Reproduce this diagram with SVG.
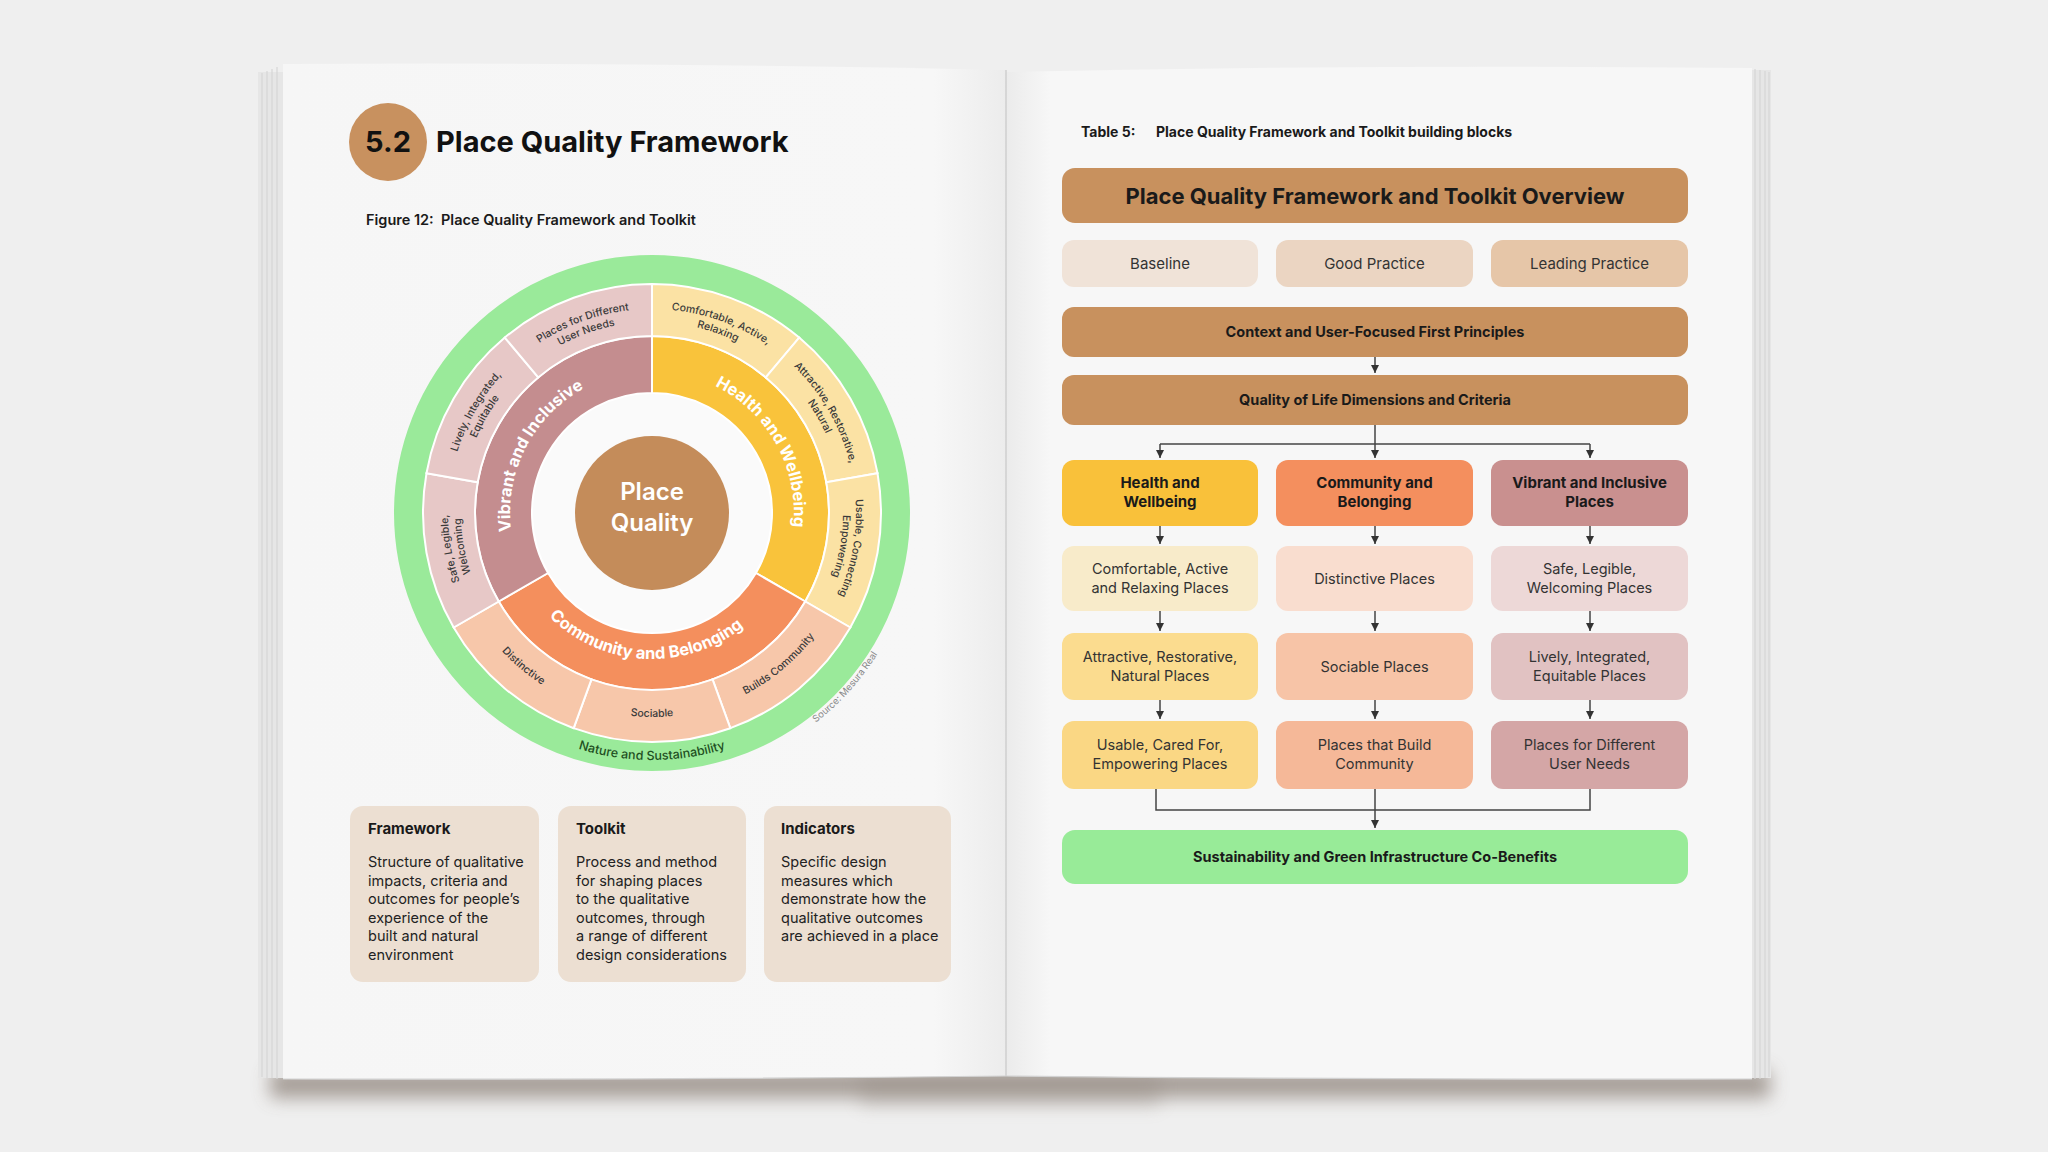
<svg xmlns="http://www.w3.org/2000/svg" xmlns:xlink="http://www.w3.org/1999/xlink" width="2048" height="1152" viewBox="0 0 2048 1152">
<defs>
<style>
text{font-family:Inter,"Liberation Sans",sans-serif;}
.h1{font-weight:700;font-size:29px;fill:#111;}
.cap{font-weight:600;font-size:14.5px;fill:#1a1a1a;}
.segt{font-weight:500;font-size:10.5px;fill:#3a3a3a;}
.midt{font-weight:700;font-size:16.5px;fill:#fff;}
.bt{font-weight:700;font-size:15px;fill:#1a1a1a;}
.bb{font-weight:400;font-size:14.5px;fill:#222;}
.th{font-weight:700;font-size:22px;fill:#1a1a1a;text-anchor:middle;}
.to{font-weight:400;font-size:15px;fill:#333;text-anchor:middle;}
.tb{font-weight:700;font-size:14.5px;fill:#1a1a1a;text-anchor:middle;}
.td{font-weight:700;font-size:15px;fill:#1a1a1a;text-anchor:middle;}
.ti{font-weight:400;font-size:14.5px;fill:#333;text-anchor:middle;}
.con{fill:none;stroke:#444;stroke-width:1.5;}
.arr{marker-end:url(#ah);}
.seg{stroke:#fff;stroke-width:2;}
</style>
<marker id="ah" markerUnits="userSpaceOnUse" markerWidth="8" markerHeight="8" viewBox="0 0 8 8" refX="8" refY="4" orient="auto">
<path d="M0,0 L8,4 L0,8 Z" fill="#333"/>
</marker>
<filter id="blur8" x="-10%" y="-200%" width="120%" height="500%"><feGaussianBlur stdDeviation="9"/></filter>
<linearGradient id="lp" x1="0" y1="0" x2="1" y2="0">
<stop offset="0" stop-color="#f6f6f6"/><stop offset="0.9" stop-color="#f7f7f7"/><stop offset="1" stop-color="#ececec"/>
</linearGradient>
<linearGradient id="rp" x1="0" y1="0" x2="1" y2="0">
<stop offset="0" stop-color="#ebebeb"/><stop offset="0.06" stop-color="#f7f7f7"/><stop offset="1" stop-color="#f7f7f7"/>
</linearGradient>
<path id="segshape" d="M652,284 A229,229 0 0 1 799.20,337.59 L765.78,377.42 A177,177 0 0 0 652,336 Z"/>
<path id="cw142" d="M512.16,488.35 A142,142 0 0 1 791.84,488.35"/>
<path id="cw204" d="M451.10,477.59 A204,204 0 0 1 852.90,477.59"/>
<path id="cw191" d="M463.90,479.84 A191,191 0 0 1 840.10,479.84"/>
<path id="ccw146" d="M508.22,538.35 A146,146 0 0 0 795.78,538.35"/>
<path id="ccw204" d="M451.10,548.41 A204,204 0 0 0 852.90,548.41"/>
<path id="ccw247" d="M408.75,555.88 A247,247 0 0 0 895.25,555.88"/>
<path id="ccw266" d="M390.04,559.18 A266,266 0 0 0 913.96,559.18"/>
</defs>

<rect x="0" y="0" width="2048" height="1152" fill="#efefef"/>

<g id="book">
<rect x="270" y="1070" width="1500" height="28" fill="#948a82" opacity="0.8" filter="url(#blur8)"/>
<rect x="860" y="1072" width="300" height="34" fill="#948a82" opacity="0.3" filter="url(#blur8)"/>
<rect x="258" y="72" width="26" height="1006" fill="#e6e6e6"/>
<path d="M262,73 V1077 M267,71 V1078 M272,69 V1078 M277,67 V1079" stroke="#d6d6d6" stroke-width="1.2" fill="none"/>
<rect x="1750" y="70" width="21" height="1008" fill="#e6e6e6"/>
<path d="M1755,69 V1079 M1760,70 V1079 M1765,71 V1078 M1769,72 V1077" stroke="#d6d6d6" stroke-width="1.2" fill="none"/>
<path d="M283,64 Q650,62 1006,70 L1006,1076 Q650,1080 283,1079 Z" fill="url(#lp)"/>
<path d="M1006,72 Q1380,64 1752,68 L1752,1079 Q1380,1080 1006,1076 Z" fill="url(#rp)"/>
<path d="M1006,70 V1076" stroke="#cfcfcf" stroke-width="1.5"/>
<path d="M283,1079 Q650,1080 1006,1076 Q1380,1080 1752,1079" stroke="#d2d2d2" stroke-width="1.2" fill="none"/>
</g>

<g id="section-title">
<circle cx="388" cy="142" r="39" fill="#c8915f"/>
<text x="388" y="152" class="h1" text-anchor="middle">5.2</text>
<text x="436" y="152" class="h1">Place Quality Framework</text>
</g>
<text id="figure-caption" y="225" class="cap"><tspan x="366">Figure 12:</tspan><tspan x="441">Place Quality Framework and Toolkit</tspan></text>

<g id="wheel">
<circle id="nature-ring" cx="652" cy="513" r="243.5" fill="none" stroke="#9aea9a" stroke-width="29"/>
<circle cx="652" cy="513" r="120" fill="#fafafa"/>
<g id="dim-health"><path class="seg" fill="#f9c33b" d="M652,336 A177,177 0 0 1 805.29,601.5 L755.92,573 A120,120 0 0 0 652,393 Z"/></g>
<g id="dim-community"><path class="seg" fill="#f48f5d" d="M805.29,601.5 A177,177 0 0 1 498.71,601.5 L548.08,573 A120,120 0 0 0 755.92,573 Z"/></g>
<g id="dim-vibrant"><path class="seg" fill="#c48d8f" d="M498.71,601.5 A177,177 0 0 1 652,336 L652,393 A120,120 0 0 0 548.08,573 Z"/></g>
<g id="seg-comfortable"><use href="#segshape" class="seg" fill="#fbe2a4"/></g>
<g id="seg-attractive"><use href="#segshape" class="seg" fill="#fbe2a4" transform="rotate(40 652 513)"/></g>
<g id="seg-usable"><use href="#segshape" class="seg" fill="#fbe2a4" transform="rotate(80 652 513)"/></g>
<g id="seg-builds"><use href="#segshape" class="seg" fill="#f7c7aa" transform="rotate(120 652 513)"/></g>
<g id="seg-sociable"><use href="#segshape" class="seg" fill="#f7c7aa" transform="rotate(160 652 513)"/></g>
<g id="seg-distinctive"><use href="#segshape" class="seg" fill="#f7c7aa" transform="rotate(200 652 513)"/></g>
<g id="seg-safe"><use href="#segshape" class="seg" fill="#e7c8c7" transform="rotate(240 652 513)"/></g>
<g id="seg-lively"><use href="#segshape" class="seg" fill="#e7c8c7" transform="rotate(280 652 513)"/></g>
<g id="seg-places"><use href="#segshape" class="seg" fill="#e7c8c7" transform="rotate(320 652 513)"/></g>

<text class="midt" transform="rotate(61 652 513)"><textPath href="#cw142" startOffset="50%" text-anchor="middle">Health and Wellbeing</textPath></text>
<text class="midt" transform="rotate(-63 652 513)"><textPath href="#cw142" startOffset="50%" text-anchor="middle">Vibrant and Inclusive</textPath></text>
<text class="midt" transform="rotate(3 652 513)"><textPath href="#ccw146" startOffset="50%" text-anchor="middle">Community and Belonging</textPath></text>

<text class="segt" transform="rotate(20 652 513)"><textPath href="#cw204" startOffset="50%" text-anchor="middle">Comfortable, Active,</textPath></text>
<text class="segt" transform="rotate(20 652 513)"><textPath href="#cw191" startOffset="50%" text-anchor="middle">Relaxing</textPath></text>
<text class="segt" transform="rotate(60 652 513)"><textPath href="#cw204" startOffset="50%" text-anchor="middle">Attractive, Restorative,</textPath></text>
<text class="segt" transform="rotate(60 652 513)"><textPath href="#cw191" startOffset="50%" text-anchor="middle">Natural</textPath></text>
<text class="segt" transform="rotate(100 652 513)"><textPath href="#cw204" startOffset="50%" text-anchor="middle">Usable, Connecting</textPath></text>
<text class="segt" transform="rotate(100 652 513)"><textPath href="#cw191" startOffset="50%" text-anchor="middle">Empowering</textPath></text>
<text class="segt" transform="rotate(-40 652 513)"><textPath href="#ccw204" startOffset="50%" text-anchor="middle">Builds Community</textPath></text>
<text class="segt"><textPath href="#ccw204" startOffset="50%" text-anchor="middle">Sociable</textPath></text>
<text class="segt" transform="rotate(40 652 513)"><textPath href="#ccw204" startOffset="50%" text-anchor="middle">Distinctive</textPath></text>
<text class="segt" transform="rotate(-100 652 513)"><textPath href="#cw204" startOffset="50%" text-anchor="middle">Safe, Legible,</textPath></text>
<text class="segt" transform="rotate(-100 652 513)"><textPath href="#cw191" startOffset="50%" text-anchor="middle">Welcoming</textPath></text>
<text class="segt" transform="rotate(-60 652 513)"><textPath href="#cw204" startOffset="50%" text-anchor="middle">Lively, Integrated,</textPath></text>
<text class="segt" transform="rotate(-60 652 513)"><textPath href="#cw191" startOffset="50%" text-anchor="middle">Equitable</textPath></text>
<text class="segt" transform="rotate(-20 652 513)"><textPath href="#cw204" startOffset="50%" text-anchor="middle">Places for Different</textPath></text>
<text class="segt" transform="rotate(-20 652 513)"><textPath href="#cw191" startOffset="50%" text-anchor="middle">User Needs</textPath></text>

<text style="font-weight:500;font-size:12.5px;fill:#1f4f1f"><textPath href="#ccw247" startOffset="50%" text-anchor="middle">Nature and Sustainability</textPath></text>
<text style="font-weight:400;font-size:9.5px;fill:#8a8a8a" transform="rotate(-48 652 513)"><textPath href="#ccw266" startOffset="50%" text-anchor="middle">Source: Mesura Real</textPath></text>

<g id="center-place-quality">
<circle cx="652" cy="513" r="77" fill="#c48c5a"/>
<text x="652" y="500" text-anchor="middle" style="font-weight:600;font-size:24px;fill:#fff">Place</text>
<text x="652" y="531" text-anchor="middle" style="font-weight:600;font-size:24px;fill:#fff">Quality</text>
</g>
</g>

<g id="box-framework">
<rect x="350" y="806" width="189" height="176" rx="13" fill="#ecdfd2"/>
<text x="368" y="834" class="bt">Framework</text>
<text class="bb"><tspan x="368" y="867">Structure of qualitative</tspan><tspan x="368" y="886">impacts, criteria and</tspan><tspan x="368" y="904">outcomes for people’s</tspan><tspan x="368" y="923">experience of the</tspan><tspan x="368" y="941">built and natural</tspan><tspan x="368" y="960">environment</tspan></text>
</g>
<g id="box-toolkit">
<rect x="558" y="806" width="188" height="176" rx="13" fill="#ecdfd2"/>
<text x="576" y="834" class="bt">Toolkit</text>
<text class="bb"><tspan x="576" y="867">Process and method</tspan><tspan x="576" y="886">for shaping places</tspan><tspan x="576" y="904">to the qualitative</tspan><tspan x="576" y="923">outcomes, through</tspan><tspan x="576" y="941">a range of different</tspan><tspan x="576" y="960">design considerations</tspan></text>
</g>
<g id="box-indicators">
<rect x="764" y="806" width="187" height="176" rx="13" fill="#ecdfd2"/>
<text x="781" y="834" class="bt">Indicators</text>
<text class="bb"><tspan x="781" y="867">Specific design</tspan><tspan x="781" y="886">measures which</tspan><tspan x="781" y="904">demonstrate how the</tspan><tspan x="781" y="923">qualitative outcomes</tspan><tspan x="781" y="941">are achieved in a place</tspan></text>
</g>

<text id="table-caption" y="137" style="font-weight:700;font-size:14px;fill:#1a1a1a"><tspan x="1081">Table 5:</tspan><tspan x="1156">Place Quality Framework and Toolkit building blocks</tspan></text>

<g id="tbl-header"><rect x="1062" y="168" width="626" height="55" rx="13" fill="#c8915e"/><text x="1375" y="204" class="th">Place Quality Framework and Toolkit Overview</text></g>
<g id="tbl-baseline"><rect x="1062" y="240" width="196" height="47" rx="12" fill="#f0e3d8"/><text x="1160" y="269" class="to">Baseline</text></g>
<g id="tbl-good"><rect x="1276" y="240" width="197" height="47" rx="12" fill="#ebd5c2"/><text x="1374.5" y="269" class="to">Good Practice</text></g>
<g id="tbl-leading"><rect x="1491" y="240" width="197" height="47" rx="12" fill="#e6c6a8"/><text x="1589.5" y="269" class="to">Leading Practice</text></g>
<g id="tbl-context"><rect x="1062" y="307" width="626" height="50" rx="12" fill="#c8915e"/><text x="1375" y="337" class="tb">Context and User-Focused First Principles</text></g>
<g id="tbl-quality"><rect x="1062" y="375" width="626" height="50" rx="12" fill="#c8915e"/><text x="1375" y="405" class="tb">Quality of Life Dimensions and Criteria</text></g>

<g id="tbl-health"><rect x="1062" y="460" width="196" height="66" rx="12" fill="#f9c13a"/><text class="td"><tspan x="1160" y="488">Health and</tspan><tspan x="1160" y="507">Wellbeing</tspan></text></g>
<g id="tbl-community"><rect x="1276" y="460" width="197" height="66" rx="12" fill="#f48f5e"/><text class="td"><tspan x="1374.5" y="488">Community and</tspan><tspan x="1374.5" y="507">Belonging</tspan></text></g>
<g id="tbl-vibrant"><rect x="1491" y="460" width="197" height="66" rx="12" fill="#c9908f"/><text class="td"><tspan x="1589.5" y="488">Vibrant and Inclusive</tspan><tspan x="1589.5" y="507">Places</tspan></text></g>

<g id="tbl-comfortable"><rect x="1062" y="546" width="196" height="65" rx="12" fill="#f8ebca"/><text class="ti"><tspan x="1160" y="574">Comfortable, Active</tspan><tspan x="1160" y="593">and Relaxing Places</tspan></text></g>
<g id="tbl-distinctive"><rect x="1276" y="546" width="197" height="65" rx="12" fill="#f9ddcf"/><text class="ti" x="1374.5" y="584">Distinctive Places</text></g>
<g id="tbl-safe"><rect x="1491" y="546" width="197" height="65" rx="12" fill="#edd8d7"/><text class="ti"><tspan x="1589.5" y="574">Safe, Legible,</tspan><tspan x="1589.5" y="593">Welcoming Places</tspan></text></g>

<g id="tbl-attractive"><rect x="1062" y="633" width="196" height="67" rx="12" fill="#fbdc8f"/><text class="ti"><tspan x="1160" y="662">Attractive, Restorative,</tspan><tspan x="1160" y="681">Natural Places</tspan></text></g>
<g id="tbl-sociable"><rect x="1276" y="633" width="197" height="67" rx="12" fill="#f7c4a7"/><text class="ti" x="1374.5" y="672">Sociable Places</text></g>
<g id="tbl-lively"><rect x="1491" y="633" width="197" height="67" rx="12" fill="#e1c2c2"/><text class="ti"><tspan x="1589.5" y="662">Lively, Integrated,</tspan><tspan x="1589.5" y="681">Equitable Places</tspan></text></g>

<g id="tbl-usable"><rect x="1062" y="721" width="196" height="68" rx="12" fill="#fad784"/><text class="ti"><tspan x="1160" y="750">Usable, Cared For,</tspan><tspan x="1160" y="769">Empowering Places</tspan></text></g>
<g id="tbl-build"><rect x="1276" y="721" width="197" height="68" rx="12" fill="#f5b898"/><text class="ti"><tspan x="1374.5" y="750">Places that Build</tspan><tspan x="1374.5" y="769">Community</tspan></text></g>
<g id="tbl-different"><rect x="1491" y="721" width="197" height="68" rx="12" fill="#d4a6a6"/><text class="ti"><tspan x="1589.5" y="750">Places for Different</tspan><tspan x="1589.5" y="769">User Needs</tspan></text></g>

<g id="tbl-sustainability"><rect x="1062" y="830" width="626" height="54" rx="13" fill="#98eb98"/><text x="1375" y="862" class="tb">Sustainability and Green Infrastructure Co-Benefits</text></g>

<g id="connectors">
<path class="con arr" d="M1375,357 V373"/>
<path class="con arr" d="M1375,425 V458"/>
<path class="con" d="M1160,444 H1590"/>
<path class="con arr" d="M1160,444 V458"/>
<path class="con arr" d="M1590,444 V458"/>
<path class="con arr" d="M1160,526 V544"/>
<path class="con arr" d="M1375,526 V544"/>
<path class="con arr" d="M1590,526 V544"/>
<path class="con arr" d="M1160,611 V631"/>
<path class="con arr" d="M1375,611 V631"/>
<path class="con arr" d="M1590,611 V631"/>
<path class="con arr" d="M1160,700 V719"/>
<path class="con arr" d="M1375,700 V719"/>
<path class="con arr" d="M1590,700 V719"/>
<path class="con" d="M1156,789 V810 H1590 V789"/>
<path class="con arr" d="M1375,789 V828"/>
</g>
</svg>
